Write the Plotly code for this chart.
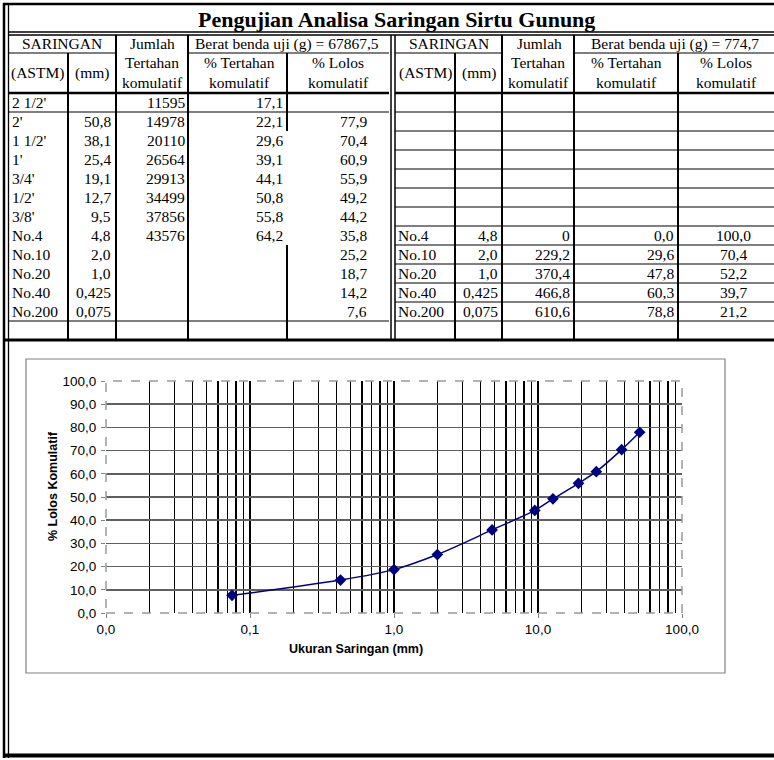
import plotly.graph_objects as go

W, H = 774, 760

# ---------------- data ----------------
title_text = "Pengujian Analisa Saringan Sirtu Gunung"
berat_left = 67867.5
berat_right = 774.7

astm_left = ["2 1/2'", "2'", "1 1/2'", "1'", "3/4'", "1/2'", "3/8'", "No.4",
             "No.10", "No.20", "No.40", "No.200"]
mm_left = [None, 50.8, 38.1, 25.4, 19.1, 12.7, 9.5, 4.8, 2.0, 1.0, 0.425, 0.075]
jumlah_left = [11595, 14978, 20110, 26564, 29913, 34499, 37856, 43576,
               None, None, None, None]
tertahan_left = [17.1, 22.1, 29.6, 39.1, 44.1, 50.8, 55.8, 64.2,
                 None, None, None, None]
lolos_left = [None, 77.9, 70.4, 60.9, 55.9, 49.2, 44.2, 35.8, 25.2, 18.7, 14.2, 7.6]

astm_right = ["No.4", "No.10", "No.20", "No.40", "No.200"]
mm_right = [4.8, 2.0, 1.0, 0.425, 0.075]
jumlah_right = [0, 229.2, 370.4, 466.8, 610.6]
tertahan_right = [0.0, 29.6, 47.8, 60.3, 78.8]
lolos_right = [100.0, 70.4, 52.2, 39.7, 21.2]
right_start_row = 7

x_tick_vals = [0.01, 0.1, 1, 10, 100]
y_tick_vals = [0, 10, 20, 30, 40, 50, 60, 70, 80, 90, 100]
x_title = "Ukuran Saringan (mm)"
y_title = "% Lolos Komulatif"

# ---------------- helpers ----------------
SERIF = "Liberation Serif"
SANS = "Liberation Sans"
TS = 15.5  # table font size


def PX(x):
    return x / W


def PY(y):
    return 1 - y / H


def fmt(v, dec=1):
    if v is None:
        return ""
    return f"{v:.{dec}f}".replace(".", ",")


def fmt_mm(v):
    if v is None:
        return ""
    return fmt(v, 3 if v < 1 else 1)


def fmt_gen(v):
    if v is None:
        return ""
    if float(v) == int(v):
        return str(int(v))
    return fmt(v, 1)


shapes = []
annotations = []


def hline(x0, x1, y, w=1.2, color="black"):
    shapes.append(dict(type="line", xref="paper", yref="paper",
                       x0=PX(x0), x1=PX(x1), y0=PY(y), y1=PY(y),
                       line=dict(color=color, width=w)))


def vline(x, y0, y1, w=2, color="black"):
    shapes.append(dict(type="line", xref="paper", yref="paper",
                       x0=PX(x), x1=PX(x), y0=PY(y0), y1=PY(y1),
                       line=dict(color=color, width=w)))


def txt(s, x, y, anchor="center", size=TS, bold=False, family=SERIF, angle=0):
    if s == "":
        return
    annotations.append(dict(text=f"<b>{s}</b>" if bold else s,
                            xref="paper", yref="paper", x=PX(x), y=PY(y),
                            xanchor=anchor, yanchor="middle", showarrow=False,
                            textangle=angle, borderpad=0,
                            font=dict(family=family, size=size, color="black")))


# ---------------- table grid ----------------
ROW0 = 93
RH = 19
NROWS = 13
TBOT = ROW0 + RH * NROWS  # 340

# outer frame
hline(3, 774, 4, 2.5)
vline(4, 3, 758, 2.5)
vline(8.5, 3, 758, 1.3)
hline(3, 774, 755.5, 4)
hline(8, 774, 32, 1.5)
hline(8, 774, 35, 1.5)

# left table
vline(116, 35, TBOT, 2)
vline(188, 35, TBOT, 2)
vline(68, 53, TBOT, 2)
vline(287, 53, ROW0 + 2 * RH, 2)
vline(287, ROW0 + 8 * RH, TBOT, 2)
hline(8, 116, 53)
hline(188, 389, 53)
hline(8, 389, ROW0, 2.5)
hline(8, 389, ROW0 + RH)
hline(8, 389, ROW0 + 12 * RH)

# separator
vline(391, 35, TBOT, 1.5)
vline(395, 35, TBOT, 1.5)

# right table
for xx, ytop in [(455, 53), (502, 35), (574, 35), (678, 53)]:
    vline(xx, ytop, TBOT, 2)
hline(395, 502, 53)
hline(574, 774, 53)
hline(395, 774, ROW0, 2.5)
for i in range(1, NROWS):
    hline(395, 774, ROW0 + i * RH)

hline(3, 774, TBOT, 3)

# ---------------- table text ----------------
txt(title_text, 396, 19, size=22, bold=True)

for off, berat in [(0, berat_left), (387, berat_right)]:
    txt("SARINGAN", 62 + off, 44)
    txt("Jumlah", 152 + off, 44)
    txt("Berat benda uji (g) = " + fmt(berat), (287 if off == 0 else 675), 44)
lx = [(37, 92, 152, 239, 338), (425, 479, 538, 626, 726)]
for c in lx:
    txt("(ASTM)", c[0], 73)
    txt("(mm)", c[1], 73)
    txt("Tertahan", c[2], 63)
    txt("komulatif", c[2], 82)
    txt("% Tertahan", c[3], 62)
    txt("komulatif", c[3], 82)
    txt("% Lolos", c[4], 62)
    txt("komulatif", c[4], 82)

for i in range(len(astm_left)):
    yc = ROW0 + RH * i + 9.5
    txt(astm_left[i], 11, yc, anchor="left")
    txt(fmt_mm(mm_left[i]), 112, yc, anchor="right")
    txt(fmt_gen(jumlah_left[i]), 186, yc, anchor="right")
    txt(fmt(tertahan_left[i]), 284, yc, anchor="right")
    txt(fmt(lolos_left[i]), 368, yc, anchor="right")

for j in range(len(astm_right)):
    yc = ROW0 + RH * (right_start_row + j) + 9.5
    txt(astm_right[j], 397, yc, anchor="left")
    txt(fmt_mm(mm_right[j]), 499, yc, anchor="right")
    txt(fmt_gen(jumlah_right[j]), 571, yc, anchor="right")
    txt(fmt(tertahan_right[j]), 675, yc, anchor="right")
    txt(fmt(lolos_right[j]), 733, yc)

# ---------------- chart ----------------
PL, PR, PT, PB = 106, 682, 381, 613

# chart frame
shapes.append(dict(type="rect", xref="paper", yref="paper",
                   x0=PX(26), x1=PX(725), y0=PY(673), y1=PY(359),
                   line=dict(color="#808080", width=1.2)))
# plot area border
shapes.append(dict(type="rect", xref="paper", yref="paper",
                   x0=PX(PL), x1=PX(PR), y0=PY(PB), y1=PY(PT),
                   line=dict(color="#9a9a9a", width=1.5, dash="dash")))

txt(x_title, 356, 649, size=12.5, bold=True, family=SANS)
txt(y_title, 53, 486, size=12.5, bold=True, family=SANS, angle=-90)

pts = [(m, l) for m, l in zip(mm_left, lolos_left) if m is not None and l is not None]
pts.sort()
xs = [p[0] for p in pts]
ys = [p[1] for p in pts]

fig = go.Figure()
fig.add_trace(go.Scatter(
    x=xs, y=ys, mode="lines+markers",
    line=dict(color="#000080", width=1.5, shape="spline", smoothing=0.8),
    marker=dict(symbol="diamond", size=9, color="#000080"),
    showlegend=False, hoverinfo="skip"))

minor_vals = [d * 10 ** k for k in range(-2, 2) for d in range(2, 10)]

fig.update_layout(
    template="none",
    width=W, height=H, autosize=False,
    margin=dict(l=0, r=0, t=0, b=0, pad=0, autoexpand=False),
    paper_bgcolor="white", plot_bgcolor="white",
    shapes=shapes, annotations=annotations,
    showlegend=False,
    xaxis=dict(
        type="log", range=[-2, 2], automargin=False,
        domain=[PX(PL), PX(PR)],
        tickmode="array", tickvals=x_tick_vals,
        ticktext=[fmt(v, 1) for v in x_tick_vals],
        showgrid=True, gridcolor="black", gridwidth=1.5,
        zeroline=False, showline=False,
        ticks="outside", ticklen=4, tickcolor="#808080",
        tickfont=dict(family=SANS, size=13.5, color="black"),
        minor=dict(tickmode="array", tickvals=minor_vals, showgrid=True,
                   gridcolor="black", gridwidth=1.5, ticks=""),
    ),
    yaxis=dict(
        range=[0, 100], automargin=False,
        domain=[PY(PB), PY(PT)],
        tickmode="array", tickvals=y_tick_vals,
        ticktext=[fmt(v, 1) for v in y_tick_vals],
        showgrid=True, gridcolor="#606060", gridwidth=1.6,
        zeroline=False, showline=False,
        ticks="outside", ticklen=4, tickcolor="#808080",
        ticklabelstandoff=2,
        tickfont=dict(family=SANS, size=13.5, color="black"),
    ),
)

fig.write_html("out.html",
               config={"displayModeBar": False, "staticPlot": True},
               post_script="document.body.style.margin='0';"
                           "document.body.style.overflow='hidden';")
